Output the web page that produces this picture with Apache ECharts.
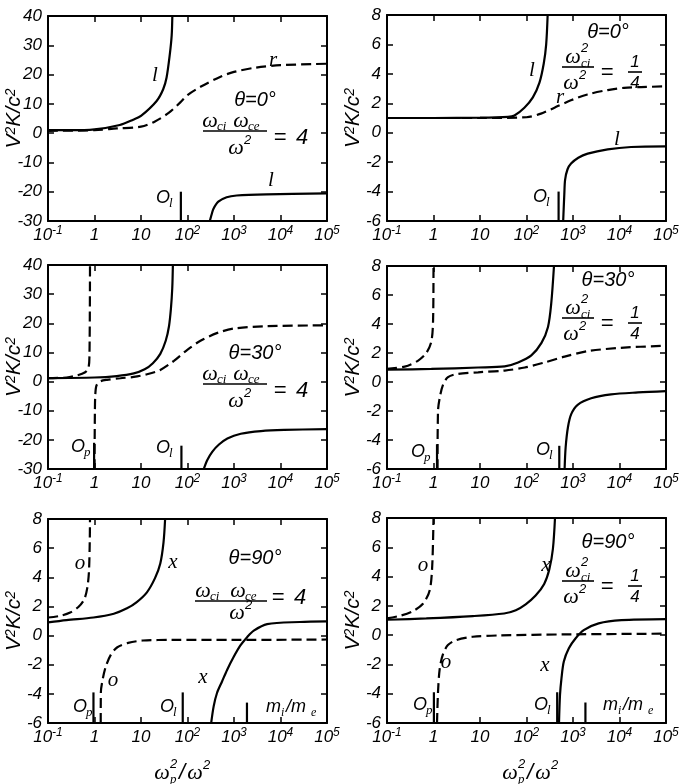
<!DOCTYPE html>
<html>
<head>
<meta charset="utf-8">
<script src="https://cdn.jsdelivr.net/npm/echarts@6/dist/echarts.min.js"></script>
<style>
  html, body { margin: 0; padding: 0; background: #fff; }
  #chart { width: 683px; height: 784px; }
</style>
</head>
<body>
<div id="chart"></div>
<script>
// Refractive index V^2 K / c^2 versus omega_p^2 / omega^2 for a two-component plasma,
// six cases: theta = 0, 30, 90 deg, each for two ratios of cyclotron to wave frequency.

// ---- tick labels ----
const decadeTickText = [['10', '-1'], ['1', ''], ['10', ''], ['10', '2'], ['10', '3'], ['10', '4'], ['10', '5']];
const wideRange = [-30, 40, 10];   // min, max, step
const narrowRange = [-6, 8, 2];

// ---- (a) theta = 0, wci*wce/w^2 = 4 ----
const a_lUpper = [[0.1, 1.0], [0.3, 1.0], [1, 1.3], [3.5, 2.8], [6.8, 4.6], [10, 5.9], [21.7, 11], [30, 15], [35.5, 19], [41.7, 27], [45.7, 33.4], [47.2, 40]];
const a_r = [[0.1, 0.8], [1, 1.0], [3, 1.6], [10, 2.2], [20, 4.0], [40, 7], [70, 10.5], [100, 13], [200, 16], [500, 19.2], [1000, 20.9], [3000, 22.4], [1e4, 23.2], [1e5, 23.7]];
const a_lLower = [[302, -30], [330, -27.8], [360, -25.9], [460, -23.4], [695, -21.9], [1140, -21.3], [5000, -20.9], [1e5, -20.6]];
const a_Ol = [[72, -30], [72, -20]];

// ---- (b) theta = 0, wci^2/w^2 = 1/4 ----
const b_lUpper = [[0.1, 1.0], [1, 1.0], [10, 1.02], [40, 1.08], [55, 1.17], [90, 1.7], [137, 2.4], [190, 3.4], [235, 4.7], [265, 6.0], [285, 8]];
const b_r = [[0.1, 1.0], [1, 1.0], [10, 1.0], [100, 1.05], [205, 1.3], [400, 1.7], [900, 2.2], [2040, 2.6], [5600, 2.9], [1.25e4, 3.05], [2.9e4, 3.1], [1e5, 3.15]];
const b_lLower = [[615, -6], [630, -5.2], [650, -4.2], [676, -3.2], [760, -2.5], [908, -2.1], [1300, -1.7], [2070, -1.42], [5570, -1.13], [1.77e4, -0.97], [1e5, -0.93]];
const b_Ol = [[490, -6], [490, -4.0]];

// ---- (c) theta = 30, wci*wce/w^2 = 4 ----
const c_dUpper = [[0.1, 1.15], [0.25, 1.4], [0.42, 2.1], [0.63, 3.2], [0.74, 4.6], [0.78, 9.2], [0.8, 40]];
const c_sUpper = [[0.1, 1.2], [1, 1.4], [3, 1.9], [7, 2.8], [12, 4.2], [18, 6.3], [26, 9.5], [34, 14], [40, 19], [44, 25], [47, 32], [48.5, 40]];
const c_dLower = [[1.0, -30], [1.02, -10], [1.04, -4.6], [1.1, -1.4], [1.3, 0], [1.85, 0.6], [3.6, 1.15], [7, 1.6], [13.5, 2.5], [26, 4.0], [51, 7.1], [99, 10.9], [190, 14], [440, 16.7], [1000, 18.2], [5200, 19], [1e5, 19.3]];
const c_sLower = [[224, -30], [265, -27], [340, -24.1], [475, -21.6], [720, -19.5], [1400, -17.9], [3800, -17], [1.2e4, -16.6], [1e5, -16.3]];
const c_Op = [[0.98, -30], [0.98, -21]];
const c_Ol = [[74, -30], [74, -22]];

// ---- (d) theta = 30, wci^2/w^2 = 1/4 ----
const d_dUpper = [[0.1, 0.9], [0.24, 1.06], [0.46, 1.46], [0.7, 2.0], [0.9, 2.8], [0.98, 4.3], [1.0, 8]];
const d_sUpper = [[0.1, 0.85], [0.9, 0.9], [9.1, 1.0], [34, 1.08], [66, 1.35], [127, 1.84], [210, 2.7], [290, 3.8], [340, 5.4], [390, 8]];
const d_dLower = [[1.22, -6], [1.25, -2.0], [1.36, -1.1], [1.6, -0.2], [2.05, 0.34], [3.36, 0.56], [9.1, 0.67], [34, 0.79], [92, 1.0], [246, 1.35], [660, 1.75], [2090, 2.13], [1.07e4, 2.36], [1e5, 2.5]];
const d_sLower = [[660, -6], [695, -4.5], [780, -3.1], [920, -2.2], [1260, -1.57], [2460, -1.12], [6600, -0.85], [2.5e4, -0.72], [1e5, -0.63]];
const d_Op = [[1.19, -6], [1.19, -4.3]];
const d_Ol = [[507, -6], [507, -4.4]];

// ---- (e) theta = 90, wci*wce/w^2 = 4 ----
const e_oUpper = [[0.1, 1.24], [0.18, 1.35], [0.3, 1.58], [0.45, 1.96], [0.6, 2.48], [0.7, 3.27], [0.76, 4.4], [0.79, 6.4], [0.8, 8]];
const e_xUpper = [[0.1, 0.9], [0.25, 1.06], [0.95, 1.24], [2.6, 1.5], [5, 1.87], [8.1, 2.3], [13.4, 2.97], [20, 3.94], [26, 4.95], [30.5, 6.4], [33, 8]];
const e_oLower = [[1.36, -6], [1.37, -3.9], [1.5, -3.0], [1.76, -2.1], [2.26, -1.3], [3.1, -0.8], [5.3, -0.5], [11, -0.34], [48, -0.3], [950, -0.3], [1e5, -0.27]];
const e_xLower = [[323, -6], [366, -4.84], [431, -3.94], [553, -3.15], [710, -2.36], [987, -1.46], [1373, -0.68], [1913, -0.11], [2663, 0.34], [5160, 0.79], [2.6e4, 0.93], [1e5, 0.97]];
const e_Op = [[0.95, -6], [0.95, -3.9]];
const e_Ol = [[79, -6], [79, -3.9]];
const e_mass = [[1900, -6], [1900, -4.6]];

// ---- (f) theta = 90, wci^2/w^2 = 1/4 ----
const f_oUpper = [[0.1, 1.15], [0.19, 1.32], [0.36, 1.64], [0.6, 2.16], [0.83, 3.07], [0.94, 4.77], [1.0, 8]];
const f_xUpper = [[0.1, 1.05], [0.7, 1.14], [7, 1.3], [33, 1.48], [59, 1.7], [96, 2.1], [157, 2.7], [240, 3.5], [310, 4.5], [370, 5.9], [410, 8]];
const f_oLower = [[1.19, -6], [1.25, -3.9], [1.36, -2.3], [1.6, -1.3], [2.04, -0.68], [3.07, -0.34], [7, -0.11], [26, -0.02], [690, 0.05], [1e5, 0.1]];
const f_xLower = [[500, -6], [525, -4.1], [565, -2.95], [635, -1.8], [815, -0.9], [1130, -0.23], [1700, 0.34], [3560, 0.8], [1.1e4, 1.02], [1e5, 1.09]];
const f_Op = [[1.02, -6], [1.02, -3.9]];
const f_Ol = [[457, -6], [457, -3.9]];
const f_mass = [[1850, -6], [1850, -4.6]];

const SERIF = '"Liberation Serif","DejaVu Serif",serif';
const SANS = '"Liberation Sans","DejaVu Sans",sans-serif';

// curve list per panel: [data, dashed]
const panels = [
  { grid: { left: 48, top: 16, width: 279, height: 205 }, range: wideRange,
    curves: [[a_lUpper, false], [a_r, true], [a_lLower, false], [a_Ol, false]] },
  { grid: { left: 387, top: 15, width: 279, height: 206 }, range: narrowRange,
    curves: [[b_lUpper, false], [b_r, true], [b_lLower, false], [b_Ol, false]] },
  { grid: { left: 48, top: 265, width: 279, height: 204 }, range: wideRange,
    curves: [[c_dUpper, true], [c_sUpper, false], [c_dLower, true], [c_sLower, false], [c_Op, false], [c_Ol, false]] },
  { grid: { left: 387, top: 266, width: 279, height: 203 }, range: narrowRange,
    curves: [[d_dUpper, true], [d_sUpper, false], [d_dLower, true], [d_sLower, false], [d_Op, false], [d_Ol, false]] },
  { grid: { left: 48, top: 519, width: 279, height: 204 }, range: narrowRange,
    curves: [[e_oUpper, true], [e_xUpper, false], [e_oLower, true], [e_xLower, false], [e_Op, false], [e_Ol, false], [e_mass, false]] },
  { grid: { left: 387, top: 518, width: 279, height: 205 }, range: narrowRange,
    curves: [[f_oUpper, true], [f_xUpper, false], [f_oLower, true], [f_xLower, false], [f_Op, false], [f_Ol, false], [f_mass, false]] }
];

function decadeLabel(v) {
  const e = Math.round(Math.log10(v));
  const t = decadeTickText[e + 1];
  if (!t) return '';
  return t[1] ? '{b|' + t[0] + '}{s|' + t[1] + '}' : '{b|' + t[0] + '}';
}

const axisLine = { show: true, onZero: false, lineStyle: { color: '#000', width: 2 } };
const tick = { show: true, inside: true, length: 6, lineStyle: { color: '#000', width: 1.5 } };

const grids = [], xAxes = [], yAxes = [], series = [];
panels.forEach((p, i) => {
  grids.push(Object.assign({ containLabel: false, outerBoundsMode: 'none' }, p.grid));
  xAxes.push({
    type: 'log', logBase: 10, gridIndex: i, min: 0.1, max: 1e5, position: 'bottom',
    axisLine, axisTick: tick, splitLine: { show: false },
    axisLabel: {
      show: true, margin: 4, formatter: decadeLabel, showMinLabel: true, showMaxLabel: true,
      rich: {
        b: { fontFamily: SANS, fontStyle: 'italic', fontSize: 17, color: '#000', lineHeight: 20 },
        s: { fontFamily: SANS, fontStyle: 'italic', fontSize: 12, color: '#000', verticalAlign: 'top', lineHeight: 12 }
      }
    }
  });
  xAxes.push({
    type: 'log', logBase: 10, gridIndex: i, min: 0.1, max: 1e5, position: 'top',
    axisLine, axisTick: tick, splitLine: { show: false }, axisLabel: { show: false }
  });
  yAxes.push({
    type: 'value', gridIndex: i, min: p.range[0], max: p.range[1], interval: p.range[2], position: 'left',
    axisLine, axisTick: tick, splitLine: { show: false },
    axisLabel: { show: true, margin: 6, color: '#000', fontFamily: SANS, fontStyle: 'italic', fontSize: 17,
      showMinLabel: true, showMaxLabel: true },
    name: 'V{s|2}K/c{s|2}', nameLocation: 'middle', nameGap: 23, nameMoveOverlap: false,
    nameTextStyle: {
      fontFamily: SANS, fontStyle: 'italic', fontSize: 21, color: '#000',
      rich: { s: { fontFamily: SANS, fontStyle: 'italic', fontSize: 14, color: '#000', verticalAlign: 'top', lineHeight: 14 } }
    }
  });
  yAxes.push({
    type: 'value', gridIndex: i, min: p.range[0], max: p.range[1], interval: p.range[2], position: 'right',
    axisLine, axisTick: tick, splitLine: { show: false }, axisLabel: { show: false }
  });
  p.curves.forEach(([data, dashed]) => {
    series.push({
      type: 'line', xAxisIndex: 2 * i, yAxisIndex: 2 * i, data: data,
      smooth: data.length > 2 ? 0.3 : false, symbol: 'none', silent: true, clip: true,
      lineStyle: { color: '#000', width: 2.2, type: dashed ? [10, 5] : 'solid', cap: 'butt' }
    });
  });
});

// ---- text annotations ----
function txt(x, y, s, size, fam, align) {
  const a = align || 'center';
  return { type: 'text', x: x, y: y, silent: true, z: 10,
    style: { text: s, fill: '#000', font: 'italic ' + size + 'px ' + (fam || SERIF),
      textAlign: a, textVerticalAlign: 'middle', align: a, verticalAlign: 'middle' } };
}
function hbar(x1, x2, y) {
  return { type: 'line', silent: true, z: 10, shape: { x1: x1, y1: y, x2: x2, y2: y }, style: { stroke: '#000', lineWidth: 1.6 } };
}
function omegaSub(x, y, sub) { return [txt(x, y, 'ω', 22), txt(x + 7, y + 6, sub, 13, SERIF, 'left')]; }
function omegaSup(x, y, sup) { return [txt(x, y, 'ω', 22), txt(x + 8, y - 8, sup, 13, SANS, 'left')]; }
function omegaSupSub(x, y, sup, sub) {
  return [txt(x, y, 'ω', 22), txt(x + 8, y - 9, sup, 13, SANS, 'left'), txt(x + 8, y + 7, sub, 13, SERIF, 'left')];
}
function oMark(x, y, sub) { return [txt(x, y, 'O', 18, SANS), txt(x + 6, y + 6, sub, 13, SERIF, 'left')]; }

function productFormula(theta, ty, numY, barX1, barX2, barY, denY, eqY, w1, w2, dx, eqX) {
  return [txt(255, ty, theta, 20, SANS)]
    .concat(omegaSub(w1, numY, 'ci'), omegaSub(w2, numY, 'ce'))
    .concat([hbar(barX1, barX2, barY)])
    .concat(omegaSup(dx, denY, '2'))
    .concat([txt(eqX, eqY, '=', 22, SANS), txt(eqX + 22, eqY, '4', 22, SANS)]);
}
function quarterFormula(theta, ty, dy) {
  return [txt(608, ty, theta, 20, SANS)]
    .concat(omegaSupSub(573, 57 + dy, '2', 'ci'))
    .concat([hbar(562, 594, 67 + dy)])
    .concat(omegaSup(571, 83 + dy, '2'))
    .concat([txt(607, 73 + dy, '=', 22, SANS), txt(635, 62 + dy, '1', 17, SANS), hbar(628, 642, 72 + dy), txt(635, 83 + dy, '4', 17, SANS)]);
}
function massRatio(x, y) {
  return [txt(x, y, 'm', 18, SANS, 'left'), txt(x + 15, y + 6, 'i', 12, SERIF, 'left'),
    txt(x + 20, y, '/m', 18, SANS, 'left'), txt(x + 45, y + 6, 'e', 12, SERIF, 'left')];
}
function xName(x, y) {
  return omegaSupSub(x, y, '2', 'p').concat([txt(x + 20, y, '/', 22, SANS), omegaSup(x + 33, y, '2')].flat());
}

const graphics = []
  // (a)
  .concat(productFormula('θ=0°', 100, 121, 203, 267, 131, 148, 138, 210, 241, 236, 280))
  .concat([txt(155, 75, 'l', 21), txt(273, 60, 'r', 21), txt(271, 180, 'l', 21)], oMark(163, 198, 'l'))
  // (b)
  .concat(quarterFormula('θ=0°', 32, 0))
  .concat([txt(532, 70, 'l', 21), txt(560, 97, 'r', 21), txt(617, 139, 'l', 21)], oMark(540, 197, 'l'))
  // (c)
  .concat(productFormula('θ=30°', 353, 374, 203, 267, 384, 401, 391, 210, 241, 236, 280))
  .concat(oMark(78, 447, 'p'), oMark(163, 448, 'l'))
  // (d)
  .concat(quarterFormula('θ=30°', 280, 251))
  .concat(oMark(418, 452, 'p'), oMark(543, 450, 'l'))
  // (e)
  .concat(productFormula('θ=90°', 558, 591, 195, 267, 601, 613, 598, 203, 238, 237, 278))
  .concat([txt(80, 563, 'o', 21), txt(173, 562, 'x', 21), txt(113, 680, 'o', 21), txt(203, 677, 'x', 21)],
    oMark(80, 707, 'p'), oMark(167, 707, 'l'), massRatio(266, 707))
  // (f)
  .concat(quarterFormula('θ=90°', 542, 514))
  .concat([txt(423, 565, 'o', 21), txt(546, 565, 'x', 21), txt(446, 662, 'o', 21), txt(545, 665, 'x', 21)],
    oMark(420, 705, 'p'), oMark(541, 705, 'l'), massRatio(603, 705))
  // x axis titles
  .concat(xName(162, 773), xName(510, 773));

const chart = echarts.init(document.getElementById('chart'), null, { renderer: 'canvas' });
chart.setOption({
  animation: false,
  backgroundColor: '#fff',
  grid: grids,
  xAxis: xAxes,
  yAxis: yAxes,
  series: series,
  graphic: { elements: graphics }
});
</script>
</body>
</html>
